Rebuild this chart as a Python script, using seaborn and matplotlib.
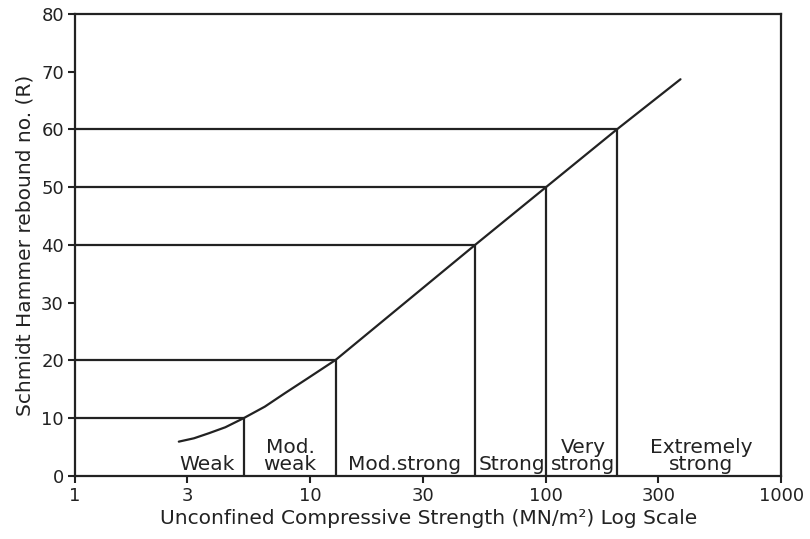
import matplotlib
matplotlib.use("Agg")
import matplotlib.pyplot as plt
import seaborn as sns
import pandas as pd

# curve (strength MN/m2, rebound no.)
curve_strength = [2.76, 3.2, 3.7, 4.35, 5.2, 6.4, 7.77, 9.73, 12.8, 50, 100, 200, 373]
curve_rebound = [5.94, 6.52, 7.39, 8.43, 10.0, 12.0, 14.3, 16.9, 20.1, 40, 50, 60, 68.7]

# class boundaries
boundary_strength = [5.2, 12.8, 50, 100, 200]
boundary_rebound = [10, 20.1, 40, 50, 60]

class_labels = ["Weak", "Mod.\nweak", "Mod.strong", "Strong", "Very\nstrong", "Extremely\nstrong"]
class_label_x = [3.63, 8.2, 25.2, 72, 144, 456]

x_ticks = [1, 3, 10, 30, 100, 300, 1000]
y_ticks = [0, 10, 20, 30, 40, 50, 60, 70, 80]

sns.set_style("ticks")
plt.rcParams["font.family"] = ["DejaVu Sans"]
ink = "#222222"
fs = 14.5

fig = plt.figure(figsize=(8.10, 5.39), dpi=100)
ax = fig.add_axes([0.0926, 0.117, 0.872, 0.857])

df = pd.DataFrame({"strength": curve_strength, "rebound": curve_rebound})
sns.lineplot(data=df, x="strength", y="rebound", ax=ax, color=ink, lw=1.6, sort=False)

ax.hlines(boundary_rebound, 1, boundary_strength, color=ink, lw=1.6)
ax.vlines(boundary_strength, 0, boundary_rebound, color=ink, lw=1.6)

for lab, xx in zip(class_labels, class_label_x):
    ax.text(xx, 0.3, lab, ha="center", va="bottom", fontsize=fs,
            color=ink, linespacing=0.85)

ax.set_xscale("log")
ax.set_xlim(1, 1000)
ax.set_ylim(0, 80)
ax.set_xticks(x_ticks)
ax.set_xticklabels([str(t) for t in x_ticks])
ax.minorticks_off()
ax.set_yticks(y_ticks)
ax.tick_params(axis="both", labelsize=13, colors=ink, length=5, width=1.5, pad=3)
for s in ax.spines.values():
    s.set_color(ink)
    s.set_linewidth(1.6)

ax.set_xlabel("Unconfined Compressive Strength (MN/m²) Log Scale", fontsize=fs, color=ink, labelpad=3)
ax.set_ylabel("Schmidt Hammer rebound no. (R)", fontsize=fs, color=ink, labelpad=5)

fig.savefig("out.png", dpi=100)
